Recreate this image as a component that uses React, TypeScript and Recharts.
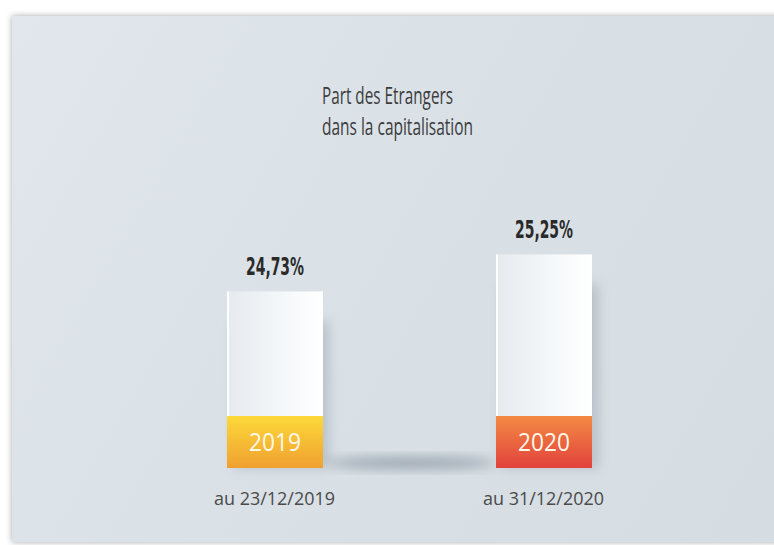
import React from 'react'
import { BarChart, Bar, XAxis, YAxis, LabelList } from 'recharts'

const dates = ['au 23/12/2019', 'au 31/12/2020']
const years = ['2019', '2020']
const shares = [24.73, 25.25]
const shareLabels = ['24,73%', '25,25%']
const titleLines = ['Part des Etrangers', 'dans la capitalisation']

const BAND_TOP = ['#fdd93a', '#f38a44']
const BAND_BOTTOM = ['#efa030', '#e2423c']

const data = dates.map((d, i) => ({ date: d, year: years[i], value: shares[i], label: shareLabels[i] }))

const BarShape = (props: any) => {
  const { x, y, width, height, index } = props
  const band = 52
  const bottom = y + height
  return (
    <g>
      {/* soft shadow right of the column */}
      <rect x={x + 6} y={y + 30} width={width} height={height - 30} fill="#7d8b96" opacity={0.35} filter="url(#blur)" />
      {index === 0 && (
        <ellipse cx={x + width + 88} cy={bottom - 5} rx={85} ry={6} fill="#5f6e7a" opacity={0.5} filter="url(#blur)" />
      )}
      <rect x={x} y={y} width={width} height={height - band} fill="url(#colBody)" />
      <rect x={x} y={y} width={2} height={height - band} fill="#ffffff" />
      <rect x={x} y={bottom - band} width={width} height={band} fill={`url(#band${index})`} />
      <text
        x={x + width / 2}
        y={bottom - band / 2 + 9}
        textAnchor="middle"
        fill="#fff8ea"
        fontSize={25}
        fontFamily="'Open Sans', sans-serif"
        textLength={52}
        lengthAdjust="spacingAndGlyphs"
      >
        {years[index]}
      </text>
    </g>
  )
}

const DateTick = (props: any) => {
  const { x, y, payload } = props
  return (
    <text
      x={x}
      y={y + 29}
      textAnchor="middle"
      fill="#4a4a4a"
      fontSize={19}
      fontFamily="'Open Sans', sans-serif"
      textLength={121}
      lengthAdjust="spacingAndGlyphs"
    >
      {payload.value}
    </text>
  )
}

const ValueLabel = (props: any) => {
  const { x, y, width, index } = props
  return (
    <text
      x={x + width / 2}
      y={y - 16}
      textAnchor="middle"
      fill="#2a2a2a"
      fontSize={24}
      fontWeight="bold"
      fontFamily="'DejaVu Sans', sans-serif"
      style={{ fontStretch: 'condensed' }}
      textLength={58}
      lengthAdjust="spacingAndGlyphs"
    >
      {shareLabels[index]}
    </text>
  )
}

export default function App() {
  return (
    <div style={{ position: 'fixed', left: 0, top: 0, width: 774, height: 545, background: '#ffffff', overflow: 'hidden' }}>
      <div
        style={{
          position: 'absolute',
          left: 12,
          top: 16,
          width: 770,
          height: 526,
          background: 'linear-gradient(120deg, #e1e7ec 0%, #d9e0e6 50%, #d5dce2 100%)',
          boxShadow: '0 0 6px rgba(0,0,0,0.35)',
        }}
      >
        <svg style={{ position: 'absolute', left: 0, top: 0 }} width={762} height={160}>
          <text x={310} y={88} fill="#3c3c3c" fontSize={23} fontFamily="'Open Sans', sans-serif" textLength={131} lengthAdjust="spacingAndGlyphs">
            {titleLines[0]}
          </text>
          <text x={310} y={119} fill="#3c3c3c" fontSize={23} fontFamily="'Open Sans', sans-serif" textLength={151} lengthAdjust="spacingAndGlyphs">
            {titleLines[1]}
          </text>
        </svg>
        <div style={{ position: 'absolute', left: 0, top: 0 }}>
          <BarChart width={762} height={526} data={data} margin={{ top: 185, right: 96, bottom: 34, left: 128 }}>
            <defs>
              <filter id="blur" x="-50%" y="-50%" width="200%" height="200%">
                <feGaussianBlur stdDeviation="6" />
              </filter>
              <linearGradient id="colBody" x1="0" y1="0" x2="1" y2="0">
                <stop offset="0%" stopColor="#e6eaee" />
                <stop offset="55%" stopColor="#f4f7f9" />
                <stop offset="100%" stopColor="#ffffff" />
              </linearGradient>
              {years.map((yr, i) => (
                <linearGradient key={yr} id={`band${i}`} x1="0" y1="0" x2="0" y2="1">
                  <stop offset="0%" stopColor={BAND_TOP[i]} />
                  <stop offset="100%" stopColor={BAND_BOTTOM[i]} />
                </linearGradient>
              ))}
            </defs>
            <XAxis dataKey="date" axisLine={false} tickLine={false} height={40} tick={<DateTick />} interval={0} />
            <YAxis hide domain={[22.25, 26]} />
            <Bar dataKey="value" barSize={96} shape={<BarShape />} isAnimationActive={false}>
              <LabelList dataKey="label" content={<ValueLabel />} />
            </Bar>
          </BarChart>
        </div>
      </div>
    </div>
  )
}
